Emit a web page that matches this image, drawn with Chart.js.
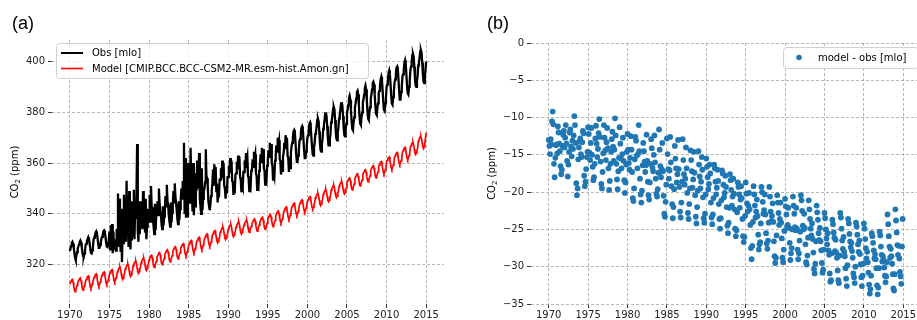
<!DOCTYPE html>
<html>
<head>
<meta charset="utf-8">
<script src="https://cdn.jsdelivr.net/npm/chart.js@4"></script>
<style>
html,body{margin:0;padding:0;background:#fff;}
body{width:917px;height:320px;overflow:hidden;position:relative;}
#wa{position:absolute;left:0;top:0;width:460px;height:320px;}
#wb{position:absolute;left:460px;top:0;width:470px;height:320px;}
canvas{display:block;}
</style>
</head>
<body>
<div id="wa"><canvas id="ca" width="460" height="320"></canvas></div>
<div id="wb"><canvas id="cb" width="470" height="320"></canvas></div>
<script>
// ---------------- DATA ----------------
const years = [1970,1971,1972,1973,1974,1975,1976,1977,1978,1979,1980,1981,1982,1983,1984,1985,1986,1987,1988,1989,1990,1991,1992,1993,1994,1995,1996,1997,1998,1999,2000,2001,2002,2003,2004,2005,2006,2007,2008,2009,2010,2011,2012,2013,2014,2015];

// Observed CO2 at Mauna Loa (ppm), monthly rows per year
const obsMonthly = [
[325.4,326.3,327.4,328.6,329.0,328.2,326.6,324.4,322.7,321.8,323.7,324.9],
[326.4,327.2,328.0,329.0,329.5,328.7,327.1,325.0,323.4,323.2,324.4,325.5],
[327.8,328.3,329.4,330.1,330.8,330.0,328.5,326.3,324.6,324.4,325.6,326.7],
[329.9,330.6,331.5,332.6,333.1,332.3,330.6,328.3,326.6,326.6,327.8,328.9],
[330.4,331.0,331.9,333.2,333.5,332.8,331.0,328.9,327.2,327.0,328.2,329.3],
[333.0,326.0,335.5,331.0,336.0,324.5,333.0,327.0,326.5,330.0,325.5,334.0],
[330.0,348.0,327.0,346.0,336.5,325.0,342.0,321.0,333.0,328.5,347.5,331.0],
[340.0,329.0,353.0,334.0,338.0,327.0,349.0,330.0,326.0,345.0,329.5,336.0],
[336.0,349.5,330.0,342.0,338.0,348.0,367.5,333.0,329.0,345.0,332.0,340.0],
[338.0,345.0,334.0,349.0,340.0,337.0,333.0,346.0,330.0,335.0,342.0,337.5],
[339.0,347.5,337.0,351.0,343.0,342.5,338.0,335.0,332.0,344.0,333.5,340.0],
[341.0,345.0,339.5,350.0,344.5,341.0,340.0,336.0,334.0,343.0,335.5,339.0],
[342.0,347.0,343.0,351.5,345.0,343.5,339.5,337.0,335.0,344.5,336.5,340.5],
[343.5,349.0,344.5,352.0,347.0,344.0,341.5,338.0,336.0,345.0,337.5,342.0],
[345.0,350.0,346.0,353.0,349.0,368.0,340.0,362.0,338.5,355.0,339.0,360.0],
[352.0,359.5,344.0,366.0,351.0,348.0,341.0,360.0,339.5,347.0,343.0,356.0],
[349.0,361.0,350.0,355.0,364.0,346.0,343.0,340.0,358.0,341.5,346.0,349.0],
[350.0,352.5,365.5,355.0,354.0,351.0,345.0,343.0,341.5,343.5,347.0,349.0],
[352.0,357.5,351.0,359.5,355.0,358.5,349.0,352.0,344.5,349.0,346.5,353.5],
[353.5,358.0,354.0,361.0,357.0,360.0,351.0,350.0,346.0,350.5,348.0,354.5],
[354.5,359.0,356.0,362.0,358.5,361.0,353.0,352.5,347.5,350.0,349.5,355.5],
[356.0,360.5,357.5,363.0,360.0,362.5,354.5,353.5,348.5,351.5,350.5,356.5],
[356.5,361.0,358.0,364.0,361.0,362.5,355.0,354.0,349.0,352.0,351.0,357.0],
[357.5,361.5,358.5,364.5,362.0,363.5,356.0,355.0,349.5,352.5,351.5,357.0],
[359.0,363.5,360.5,366.0,363.5,365.5,358.0,357.0,351.5,354.5,353.5,359.0],
[361.0,365.0,362.5,368.0,365.5,367.5,360.0,359.0,353.5,356.5,355.0,361.0],
[363.0,367.0,364.5,370.0,367.5,369.0,361.5,361.0,355.5,358.0,357.0,362.5],
[364.0,368.0,365.5,371.0,368.5,370.0,363.0,362.0,356.5,359.5,358.0,364.0],
[366.5,368.0,370.0,372.5,373.0,372.0,368.0,363.5,360.5,360.5,363.0,365.0],
[368.5,369.5,371.5,374.0,374.5,373.5,369.5,365.0,362.0,362.0,364.5,366.5],
[370.0,371.0,373.0,375.5,376.0,374.5,370.5,366.5,363.5,363.0,366.0,368.0],
[371.5,372.5,374.5,377.0,377.5,376.5,372.5,368.0,365.0,364.5,367.5,369.5],
[373.5,375.0,377.0,379.5,380.0,378.5,374.5,370.0,367.0,367.0,369.5,371.5],
[376.0,377.0,379.0,381.5,382.0,381.0,377.0,372.5,369.5,369.0,372.0,374.0],
[377.5,379.0,381.0,383.5,384.0,382.5,378.5,374.0,371.0,370.5,373.5,375.5],
[380.0,381.0,383.0,385.5,386.5,385.0,381.0,376.5,373.5,373.0,376.0,378.0],
[382.0,383.5,385.5,388.0,388.5,387.0,383.0,378.5,375.5,375.0,378.0,380.0],
[384.0,385.0,387.0,389.5,390.5,389.0,385.0,380.5,377.5,377.0,380.0,382.0],
[385.5,387.0,389.0,391.5,392.0,391.0,387.0,382.5,379.5,379.0,381.5,383.5],
[387.5,388.5,390.5,393.0,394.0,392.5,388.5,384.0,381.0,380.5,383.5,385.5],
[390.0,391.0,393.0,395.5,396.5,395.0,391.0,386.5,383.5,383.0,386.0,388.0],
[391.5,393.0,395.0,397.5,398.0,397.0,393.0,388.5,385.0,385.0,388.0,390.0],
[394.0,395.0,397.0,399.5,400.5,399.0,395.0,390.5,387.5,387.0,390.0,392.0],
[396.5,398.0,400.0,402.5,403.0,402.0,398.0,393.5,390.5,390.0,392.5,394.5],
[398.5,399.5,401.5,404.0,404.5,403.5,399.5,395.0,392.0,391.5,394.5,397.0],
[400.0]
];

// Model CO2 (ppm), monthly rows per year
const modelMonthly = [
[312.3,312.9,313.5,314.0,314.2,313.2,311.5,310.0,309.4,310.0,311.0,311.8],
[312.9,313.5,314.1,314.6,314.8,313.8,312.1,310.6,310.0,310.6,311.6,312.4],
[313.6,314.2,314.8,315.3,315.5,314.5,312.8,311.3,310.7,311.3,312.3,313.1],
[314.4,315.0,315.6,316.1,316.3,315.3,313.6,312.1,311.5,312.1,313.1,313.9],
[315.2,315.8,316.4,316.9,317.1,316.1,314.4,312.9,312.3,312.9,313.9,314.7],
[316.1,316.7,317.3,317.8,318.0,317.0,315.3,313.8,313.2,313.8,314.8,315.6],
[317.1,317.7,318.3,318.8,319.0,318.0,316.3,314.8,314.2,314.8,315.8,316.6],
[318.3,318.9,319.5,320.0,320.2,319.2,317.5,316.0,315.4,316.0,317.0,317.8],
[319.5,320.1,320.7,321.2,321.4,320.4,318.7,317.2,316.6,317.2,318.2,319.0],
[320.7,321.3,321.9,322.4,322.6,321.6,319.9,318.4,317.8,318.4,319.4,320.2],
[321.8,322.4,323.0,323.5,323.7,322.7,321.0,319.5,318.9,319.5,320.5,321.3],
[322.9,323.5,324.1,324.6,324.8,323.8,322.1,320.6,320.0,320.6,321.6,322.4],
[324.0,324.6,325.2,325.7,325.9,324.9,323.2,321.7,321.1,321.7,322.7,323.5],
[325.2,325.8,326.4,326.9,327.1,326.1,324.4,322.9,322.3,322.9,323.9,324.7],
[326.4,327.0,327.6,328.1,328.3,327.3,325.6,324.1,323.5,324.1,325.1,325.9],
[327.6,328.2,328.8,329.3,329.5,328.5,326.8,325.3,324.7,325.3,326.3,327.1],
[328.9,329.5,330.1,330.6,330.8,329.8,328.1,326.6,326.0,326.6,327.6,328.4],
[330.2,330.8,331.4,331.9,332.1,331.1,329.4,327.9,327.3,327.9,328.9,329.7],
[331.5,332.1,332.7,333.2,333.4,332.4,330.7,329.2,328.6,329.2,330.2,331.0],
[332.8,333.4,334.0,334.5,334.7,333.7,332.0,330.5,329.9,330.5,331.5,332.3],
[333.9,334.5,335.1,335.6,335.8,334.8,333.1,331.6,331.0,331.6,332.6,333.4],
[334.9,335.5,336.1,336.6,336.8,335.8,334.1,332.6,332.0,332.6,333.6,334.4],
[335.6,336.2,336.8,337.3,337.5,336.5,334.8,333.3,332.7,333.3,334.3,335.1],
[336.1,336.7,337.3,337.8,338.0,337.0,335.3,333.8,333.2,333.8,334.8,335.6],
[336.8,337.4,338.0,338.5,338.7,337.7,336.0,334.5,333.9,334.5,335.5,336.3],
[337.9,338.5,339.1,339.6,339.8,338.8,337.1,335.6,335.0,335.6,336.6,337.4],
[339.3,339.9,340.5,341.0,341.2,340.2,338.5,337.0,336.4,337.0,338.0,338.8],
[340.8,341.4,342.0,342.5,342.7,341.7,340.0,338.5,337.9,338.5,339.5,340.3],
[342.3,342.9,343.5,344.0,344.2,343.2,341.5,340.0,339.4,340.0,341.0,341.8],
[343.6,344.2,344.8,345.3,345.5,344.5,342.8,341.3,340.7,341.3,342.3,343.1],
[344.9,345.5,346.1,346.6,346.8,345.8,344.1,342.6,342.0,342.6,343.6,344.4],
[346.2,346.8,347.4,347.9,348.1,347.1,345.4,343.9,343.3,343.9,344.9,345.7],
[347.7,348.3,348.9,349.4,349.6,348.6,346.9,345.4,344.8,345.4,346.4,347.2],
[349.3,349.9,350.5,351.0,351.2,350.2,348.5,347.0,346.4,347.0,348.0,348.8],
[350.8,351.4,352.0,352.5,352.7,351.7,350.0,348.5,347.9,348.5,349.5,350.3],
[352.3,352.9,353.5,354.0,354.2,353.2,351.5,350.0,349.4,350.0,351.0,351.8],
[353.9,354.5,355.1,355.6,355.8,354.8,353.1,351.6,351.0,351.6,352.6,353.4],
[355.5,356.1,356.7,357.2,357.4,356.4,354.7,353.2,352.6,353.2,354.2,355.0],
[357.1,357.7,358.3,358.8,359.0,358.0,356.3,354.8,354.2,354.8,355.8,356.6],
[358.7,359.3,359.9,360.4,360.6,359.6,357.9,356.4,355.8,356.4,357.4,358.2],
[360.5,361.1,361.7,362.2,362.4,361.4,359.7,358.2,357.6,358.2,359.2,360.0],
[362.3,362.9,363.5,364.0,364.2,363.2,361.5,360.0,359.4,360.0,361.0,361.8],
[364.3,364.9,365.5,366.0,366.2,365.2,363.5,362.0,361.4,362.0,363.0,363.8],
[366.3,366.9,367.5,368.0,368.2,367.2,365.5,364.0,363.4,364.0,365.0,365.8],
[368.6,369.2,369.8,370.3,370.5,369.5,367.8,366.3,365.7,366.5,368.0,370.0],
[372.0]
];

// Model minus observation (ppm), monthly rows per year
const diffMonthly = [
[-13.0,-13.8,-14.9,-12.9,-13.6,-10.5,-9.2,-10.9,-16.2,-18.0,-15.4,-13.7],
[-13.6,-14.8,-11.2,-12.0,-13.5,-14.5,-16.5,-17.6,-17.0,-13.8,-12.3,-11.8],
[-14.0,-12.7,-11.0,-13.5,-15.8,-17.9,-16.3,-14.6,-12.0,-11.6,-13.9,-15.2],
[-13.1,-14.2,-12.4,-9.8,-11.0,-13.4,-18.8,-20.4,-19.5,-15.6,-14.0,-13.2],
[-12.8,-14.9,-15.3,-13.3,-11.8,-12.1,-17.8,-19.2,-18.6,-16.9,-15.3,-14.6],
[-11.3,-12.2,-14.7,-15.7,-13.4,-11.4,-15.0,-16.6,-18.4,-18.0,-16.2,-12.8],
[-11.1,-13.5,-15.3,-14.2,-12.1,-10.2,-12.6,-15.9,-18.9,-19.5,-17.3,-14.8],
[-11.0,-12.7,-14.4,-15.7,-13.3,-11.4,-14.1,-16.8,-19.7,-18.5,-16.2,-14.6],
[-12.9,-11.9,-13.9,-15.8,-14.3,-10.1,-12.4,-16.2,-18.3,-19.6,-17.2,-15.4],
[-11.3,-13.5,-15.5,-16.8,-14.9,-12.7,-15.8,-18.4,-20.1,-18.7,-16.3,-14.6],
[-12.2,-14.3,-16.1,-17.0,-15.4,-12.5,-14.3,-17.3,-20.8,-21.2,-19.5,-15.6],
[-12.6,-13.1,-15.1,-16.8,-14.9,-11.0,-14.5,-18.2,-20.3,-21.4,-19.8,-16.4],
[-13.4,-14.5,-15.9,-17.3,-16.4,-12.3,-15.8,-18.6,-20.4,-21.0,-18.7,-16.2],
[-12.9,-14.1,-16.7,-17.2,-15.0,-12.4,-16.0,-18.2,-20.2,-20.6,-19.6,-17.4],
[-11.6,-14.3,-16.5,-18.0,-16.9,-13.4,-17.2,-20.5,-22.9,-23.3,-21.3,-19.0],
[-12.8,-14.9,-16.9,-18.2,-17.1,-12.6,-16.0,-19.2,-21.6,-23.5,-22.0,-19.6],
[-13.8,-15.5,-16.8,-18.7,-17.6,-13.0,-16.9,-19.3,-22.6,-23.4,-21.4,-18.6],
[-12.9,-15.7,-17.6,-19.0,-18.2,-14.0,-16.8,-20.1,-22.8,-23.6,-21.6,-19.5],
[-14.4,-15.7,-17.2,-19.4,-18.3,-14.6,-17.4,-20.4,-23.3,-24.2,-22.0,-19.8],
[-14.5,-16.3,-17.9,-19.5,-18.6,-15.3,-17.0,-20.7,-23.5,-24.1,-22.9,-20.3],
[-15.5,-16.6,-18.0,-19.6,-18.9,-16.3,-17.5,-21.4,-23.4,-24.3,-23.0,-20.8],
[-16.3,-16.8,-18.6,-20.3,-19.4,-17.0,-18.5,-21.6,-23.6,-24.9,-23.5,-21.1],
[-17.1,-17.5,-19.0,-20.7,-20.1,-17.8,-19.3,-22.0,-24.5,-25.5,-24.1,-22.1],
[-17.6,-18.4,-19.7,-21.8,-20.6,-18.2,-20.2,-22.3,-24.9,-25.9,-25.1,-22.7],
[-18.7,-19.3,-20.3,-22.1,-21.0,-19.2,-20.8,-23.6,-25.9,-26.7,-26.0,-23.2],
[-18.7,-20.2,-21.5,-22.6,-21.8,-20.1,-22.3,-24.4,-27.5,-29.0,-27.2,-24.0],
[-19.2,-20.3,-21.8,-23.4,-22.6,-21.0,-23.2,-25.7,-27.7,-27.0,-26.7,-24.2],
[-19.3,-20.0,-21.3,-22.9,-22.4,-20.3,-23.0,-25.5,-26.9,-27.6,-26.5,-24.1],
[-19.3,-20.6,-22.6,-23.9,-23.2,-21.5,-24.0,-26.6,-28.6,-29.5,-28.8,-25.8],
[-20.4,-21.4,-22.8,-24.4,-23.6,-21.4,-24.1,-26.2,-28.8,-29.4,-27.7,-25.2],
[-20.9,-21.9,-23.0,-24.6,-24.4,-22.1,-24.8,-26.8,-29.1,-28.2,-27.5,-25.0],
[-20.6,-21.8,-22.9,-24.7,-25.1,-22.1,-24.9,-27.7,-29.0,-28.2,-26.5,-25.3],
[-20.4,-21.1,-22.5,-24.5,-25.0,-22.9,-24.8,-27.0,-29.4,-29.7,-28.5,-26.1],
[-21.1,-22.3,-23.6,-24.9,-25.8,-24.2,-26.3,-28.1,-30.3,-30.9,-29.6,-26.6],
[-21.8,-22.7,-23.7,-25.5,-26.4,-24.8,-26.6,-27.8,-29.5,-30.8,-30.4,-27.7],
[-22.8,-23.5,-25.0,-26.2,-27.0,-25.5,-27.8,-28.4,-30.9,-32.0,-31.8,-28.2],
[-23.7,-24.3,-25.4,-26.1,-27.9,-26.4,-28.1,-28.8,-30.5,-31.8,-32.2,-28.5],
[-22.8,-23.4,-24.9,-26.5,-27.6,-26.0,-28.0,-28.6,-30.2,-31.6,-32.6,-29.8],
[-23.6,-24.2,-25.6,-26.6,-27.4,-26.8,-27.9,-28.8,-30.9,-31.4,-32.2,-30.0],
[-24.1,-24.6,-25.7,-27.0,-28.0,-26.5,-28.3,-29.7,-31.4,-32.6,-31.2,-29.6],
[-24.2,-24.9,-26.3,-27.5,-28.9,-28.0,-29.4,-30.8,-32.4,-33.6,-33.0,-31.2],
[-25.5,-25.9,-26.8,-27.8,-28.9,-28.3,-29.0,-30.2,-32.5,-33.7,-32.8,-30.2],
[-25.3,-25.8,-27.3,-28.4,-29.3,-28.6,-29.1,-30.1,-31.2,-32.1,-31.3,-29.4],
[-23.0,-24.3,-25.9,-27.3,-28.8,-27.6,-28.6,-29.6,-31.0,-32.9,-33.2,-31.0],
[-22.3,-23.8,-25.4,-27.1,-28.4,-27.2,-28.9,-30.7,-31.3,-32.3,-27.3,-23.6]
];

const xTickLabels = [1970,1975,1980,1985,1990,1995,2000,2005,2010,2015];
const yTicksA = [320,340,360,380,400];
const yTicksB = [0,-5,-10,-15,-20,-25,-30,-35];
const legendA = ["Obs [mlo]","Model [CMIP.BCC.BCC-CSM2-MR.esm-hist.Amon.gn]"];
const legendB = ["model - obs [mlo]"];

// ---------------- BUILD ----------------
function toPoints(rows){
  const pts = [];
  rows.forEach((row, i) => row.forEach((v, m) => pts.push({x: years[i] + m/12, y: v})));
  return pts;
}

const FONT = '"DejaVu Sans", sans-serif';
const GRID = '#a6a6a6';

function drawYTitle(ctx, cx, cy){
  ctx.save();
  ctx.translate(cx, cy);
  ctx.rotate(-Math.PI/2);
  ctx.fillStyle = '#000';
  ctx.textAlign = 'left';
  ctx.textBaseline = 'middle';
  const f1 = '10px ' + FONT, f2 = '7px ' + FONT;
  ctx.font = f1; const w1 = ctx.measureText('CO').width; const w3 = ctx.measureText(' (ppm)').width;
  ctx.font = f2; const w2 = ctx.measureText('2').width;
  let x = -(w1 + w2 + w3)/2;
  ctx.font = f1; ctx.fillText('CO', x, 0); x += w1;
  ctx.font = f2; ctx.fillText('2', x, 3); x += w2;
  ctx.font = f1; ctx.fillText(' (ppm)', x, 0);
  ctx.restore();
}

function roundRect(ctx, x, y, w, h, r){
  ctx.beginPath();
  ctx.moveTo(x+r, y);
  ctx.lineTo(x+w-r, y); ctx.quadraticCurveTo(x+w, y, x+w, y+r);
  ctx.lineTo(x+w, y+h-r); ctx.quadraticCurveTo(x+w, y+h, x+w-r, y+h);
  ctx.lineTo(x+r, y+h); ctx.quadraticCurveTo(x, y+h, x, y+h-r);
  ctx.lineTo(x, y+r); ctx.quadraticCurveTo(x, y, x+r, y);
  ctx.closePath();
}

const decorPlugin = {
  id: 'decor',
  afterDraw(chart, args, o){
    const ctx = chart.ctx;
    ctx.save();
    ctx.fillStyle = '#000';
    ctx.font = '18px "Liberation Sans", Arial, sans-serif';
    ctx.textAlign = 'left';
    ctx.textBaseline = 'alphabetic';
    ctx.fillText(o.label, o.labelX, 29);
    ctx.restore();
    drawYTitle(ctx, o.titleX, (chart.chartArea.top + chart.chartArea.bottom)/2);
    const L = o.legend;
    ctx.save();
    roundRect(ctx, L.x + 0.5, L.y + 0.5, L.w, L.h, 3);
    ctx.fillStyle = 'rgba(255,255,255,0.8)';
    ctx.fill();
    ctx.strokeStyle = '#d0d0d0';
    ctx.lineWidth = 1;
    ctx.stroke();
    ctx.font = '10px ' + FONT;
    ctx.textBaseline = 'middle';
    ctx.textAlign = 'left';
    L.items.forEach((it, i) => {
      const yy = L.y + L.first + i * L.step;
      if (it.type === 'line'){
        ctx.strokeStyle = it.color; ctx.lineWidth = it.width;
        ctx.beginPath(); ctx.moveTo(L.x + 5, yy); ctx.lineTo(L.x + 27, yy); ctx.stroke();
      } else {
        ctx.fillStyle = it.color;
        ctx.beginPath(); ctx.arc(L.x + 16, yy, 2.8, 0, Math.PI*2); ctx.fill();
      }
      ctx.fillStyle = '#000';
      ctx.fillText(it.text, L.x + L.textDx, yy + 0.5);
    });
    ctx.restore();
  }
};

function xScale(){
  return {
    type: 'linear', min: 1967.75, max: 2017.25,
    afterBuildTicks: s => { s.ticks = xTickLabels.map(v => ({value: v})); },
    afterFit: s => { s.height = 16; },
    ticks: { font: {family: FONT, size: 10}, color: '#222', padding: 1, maxRotation: 0, autoSkip: false,
             callback: v => String(v) },
    grid: { color: GRID, lineWidth: 0.8, tickLength: 4, tickColor: '#333', tickWidth: 1, tickBorderDash: [] },
    border: { display: false, dash: [3, 2] }
  };
}
function yScale(min, max, ticks, width, fmt){
  return {
    type: 'linear', min: min, max: max,
    afterBuildTicks: s => { s.ticks = ticks.map(v => ({value: v})); },
    afterFit: s => { s.width = width; },
    ticks: { font: {family: FONT, size: 10}, color: '#222', padding: 3, autoSkip: false, callback: fmt },
    grid: { color: GRID, lineWidth: 0.8, tickLength: 4, tickColor: '#333', tickWidth: 1, tickBorderDash: [] },
    border: { display: false, dash: [3, 2] }
  };
}

new Chart(document.getElementById('ca'), {
  type: 'line',
  data: { datasets: [
    { label: legendA[0], data: toPoints(obsMonthly), borderColor: '#000', borderWidth: 2.3, pointRadius: 0, tension: 0, fill: false },
    { label: legendA[1], data: toPoints(modelMonthly), borderColor: '#ff0000', borderWidth: 1.7, pointRadius: 0, tension: 0, fill: false }
  ]},
  options: {
    responsive: false, animation: false, events: [],
    layout: { padding: { top: 40, right: 16, left: 0, bottom: 0 } },
    scales: {
      x: xScale(),
      y: yScale(304.5, 408.5, yTicksA, 52, v => String(v))
    },
    plugins: {
      legend: { display: false }, tooltip: { enabled: false },
      decor: {
        label: '(a)', labelX: 12, titleX: 15,
        legend: { x: 56, y: 43, w: 312, h: 35, first: 10, step: 15.5, textDx: 36,
          items: [ {type: 'line', color: '#000', width: 2, text: legendA[0]},
                   {type: 'line', color: '#ff0000', width: 1.6, text: legendA[1]} ] }
      }
    }
  },
  plugins: [decorPlugin]
});

new Chart(document.getElementById('cb'), {
  type: 'scatter',
  data: { datasets: [
    { label: legendB[0], data: toPoints(diffMonthly), backgroundColor: '#1f77b4', borderWidth: 0, pointRadius: 2.9 }
  ]},
  options: {
    responsive: false, animation: false, events: [],
    layout: { padding: { top: 43, right: 9, left: 0, bottom: 0 } },
    scales: {
      x: xScale(),
      y: yScale(-35, 0, yTicksB, 71, v => String(v).replace('-', '\u2212'))
    },
    plugins: {
      legend: { display: false }, tooltip: { enabled: false },
      decor: {
        label: '(b)', labelX: 27, titleX: 32,
        legend: { x: 323, y: 47, w: 135, h: 21, first: 10.5, step: 15, textDx: 35,
          items: [ {type: 'dot', color: '#1f77b4', text: legendB[0]} ] }
      }
    }
  },
  plugins: [decorPlugin]
});
</script>
</body>
</html>
